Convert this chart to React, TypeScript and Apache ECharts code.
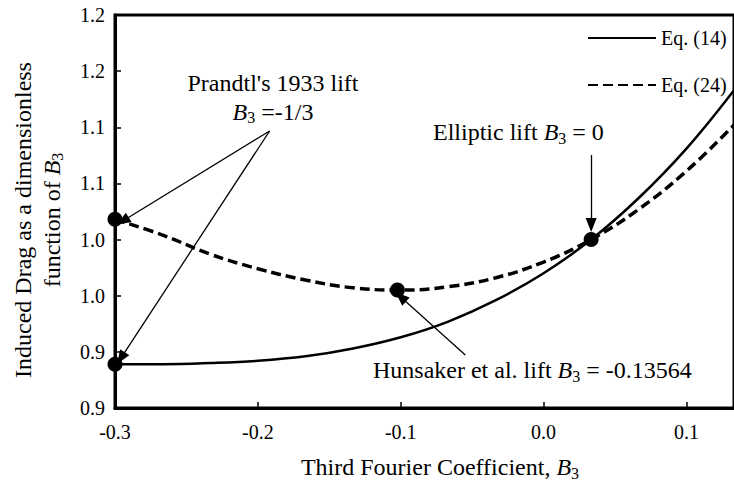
import React, { useEffect, useRef } from "react";
import * as echarts from "echarts";

// Third Fourier coefficient B3 (x) and induced drag ratio (y)
const b3Values = [-0.3333, -0.3, -0.2667, -0.2333, -0.2, -0.1667, -0.1333, -0.1, -0.0667, -0.0333, 0, 0.0333, 0.0667, 0.1];
const eq14Values = [0.889, 0.889, 0.89, 0.892, 0.896, 0.903, 0.913, 0.927, 0.946, 0.97, 1.0, 1.037, 1.081, 1.133];
const eq24Values = [1.018, 1.004, 0.987, 0.974, 0.964, 0.957, 0.955, 0.958, 0.966, 0.98, 1.0, 1.027, 1.061, 1.102];

// Highlighted points: Prandtl (both equations), Hunsaker, elliptic
const pointB3 = [-1 / 3, -1 / 3, -0.13564, 0];
const pointValues = [1.018, 0.889, 0.955, 1.0];

// Axis ticks
const xTickValues = [-1 / 3, -0.2333, -0.1333, -0.0333, 0.0667];
const xTickLabels = ["-0.3", "-0.2", "-0.1", "0.0", "0.1"];
const yTickValues = [0.85, 0.9, 0.95, 1.0, 1.05, 1.1, 1.15, 1.2];
const yTickLabels = ["0.9", "0.9", "1.0", "1.0", "1.1", "1.1", "1.2", "1.2"];

// Annotation arrows in data coordinates: [fromB3, fromY, toB3, toY]
const arrowLines = [
  [-0.2251, 1.0967, -0.3279, 1.0165],
  [-0.2251, 1.0967, -0.3292, 0.8945],
  [0, 1.0753, 0, 1.013],
  [-0.0881, 0.8972, -0.1333, 0.9489],
];

const FONT = "'Liberation Serif', 'Times New Roman', serif";

const nearestLabel = (v: number, vals: number[], labels: string[]) => {
  let best = 0;
  for (let i = 1; i < vals.length; i++) {
    if (Math.abs(vals[i] - v) < Math.abs(vals[best] - v)) best = i;
  }
  return labels[best];
};

const richStyles = (size: number) => ({
  n: { fontSize: size, fontFamily: FONT, color: "#000" },
  i: { fontSize: size, fontFamily: FONT, fontStyle: "italic", color: "#000" },
  s: { fontSize: Math.round(size * 0.65), fontFamily: FONT, color: "#000", padding: [Math.round(size * 0.5), 0, 0, 0] },
});

export default function App() {
  const ref = useRef<HTMLDivElement>(null);
  useEffect(() => {
    const chart = echarts.init(ref.current!, null, { renderer: "svg" });
    const option: any = {
      animation: false,
      backgroundColor: "#fff",
      grid: {
        left: 115,
        top: 15,
        width: 633,
        height: 393,
        show: true,
        borderColor: "#000",
        borderWidth: 3,
      },
      legend: {
        data: ["Eq. (14)", "Eq. (24)"],
        orient: "vertical",
        left: 582,
        top: 23,
        itemWidth: 68,
        itemHeight: 20,
        itemGap: 27,
        itemTextGap: 7,
        itemStyle: { opacity: 0 },
        textStyle: { fontSize: 20, fontFamily: FONT, color: "#000", lineHeight: 20 },
        selectedMode: false,
      },
      xAxis: {
        type: "value",
        min: -1 / 3,
        max: 0.1,
        axisLine: { show: true, onZero: false, lineStyle: { color: "#000", width: 3 } },
        axisTick: { show: true, inside: true, length: 6, lineStyle: { color: "#000", width: 1.5 }, customValues: xTickValues },
        axisLabel: {
          customValues: xTickValues,
          formatter: (v: number) => nearestLabel(v, xTickValues, xTickLabels),
          fontSize: 20,
          fontFamily: FONT,
          color: "#000",
          margin: 14,
        },
        splitLine: { show: false },
      },
      yAxis: {
        type: "value",
        min: 0.85,
        max: 1.2,
        axisLine: { show: true, onZero: false, lineStyle: { color: "#000", width: 3 } },
        axisTick: { show: true, inside: true, length: 6, lineStyle: { color: "#000", width: 1.5 }, customValues: yTickValues },
        axisLabel: {
          customValues: yTickValues,
          formatter: (v: number) => nearestLabel(v, yTickValues, yTickLabels),
          fontSize: 20,
          fontFamily: FONT,
          color: "#000",
          margin: 10,
        },
        splitLine: { show: false },
      },
      series: [
        {
          name: "Eq. (14)",
          type: "line",
          symbol: "none",
          smooth: 0.4,
          data: b3Values.map((x, i) => [x, eq14Values[i]]),
          lineStyle: { color: "#000", width: 2.5, type: "solid" },
          itemStyle: { color: "#000" },
          z: 3,
        },
        {
          name: "Eq. (24)",
          type: "line",
          symbol: "none",
          smooth: 0.4,
          data: b3Values.map((x, i) => [x, eq24Values[i]]),
          lineStyle: { color: "#000", width: 3.5, type: [10, 5] },
          itemStyle: { color: "#000" },
          z: 3,
        },
        {
          name: "points",
          type: "scatter",
          symbol: "circle",
          symbolSize: 15,
          data: pointB3.map((x, i) => [x, pointValues[i]]),
          itemStyle: { color: "#000", opacity: 1 },
          silent: true,
          z: 5,
          markLine: {
            silent: true,
            symbol: ["none", "triangle"],
            symbolSize: [11, 14],
            label: { show: false },
            lineStyle: { color: "#000", width: 1.3, type: "solid" },
            emphasis: { disabled: true },
            data: arrowLines.map((a) => [{ coord: [a[0], a[1]] }, { coord: [a[2], a[3]] }]),
          },
        },
      ],
      graphic: [
        {
          type: "text",
          x: 273,
          y: 97,
          style: {
            text: "{n|Prandtl's 1933 lift}\n{i|B}{s|3}{n| =-1/3}",
            rich: richStyles(24),
            align: "center",
            verticalAlign: "middle",
            lineHeight: 29,
          },
        },
        {
          type: "text",
          x: 433,
          y: 132,
          style: {
            text: "{n|Elliptic lift }{i|B}{s|3}{n| = 0}",
            rich: richStyles(24),
            align: "left",
            verticalAlign: "middle",
          },
        },
        {
          type: "text",
          x: 373,
          y: 370,
          style: {
            text: "{n|Hunsaker et al. lift }{i|B}{s|3}{n| = -0.13564}",
            rich: richStyles(24),
            align: "left",
            verticalAlign: "middle",
          },
        },
        {
          type: "text",
          x: 37,
          y: 220,
          rotation: Math.PI / 2,
          style: {
            text: "{n|Induced Drag as a dimensionless}\n{n|function of }{i|B}{s|3}",
            rich: richStyles(24),
            align: "center",
            verticalAlign: "middle",
            lineHeight: 29,
          },
        },
        {
          type: "text",
          x: 440,
          y: 467,
          style: {
            text: "{n|Third Fourier Coefficient, }{i|B}{s|3}",
            rich: richStyles(24),
            align: "center",
            verticalAlign: "middle",
          },
        },
      ],
    };
    chart.setOption(option);
    return () => chart.dispose();
  }, []);
  return (
    <div
      ref={ref}
      style={{ position: "absolute", left: 0, top: 0, width: 734, height: 487, background: "#fff" }}
    />
  );
}
